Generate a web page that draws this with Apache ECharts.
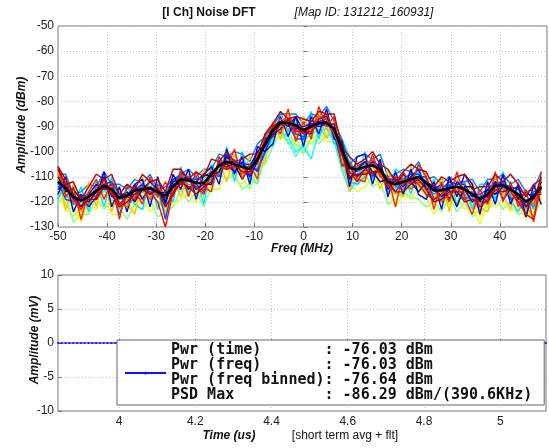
<!DOCTYPE html>
<html>
<head>
<meta charset="utf-8">
<script src="https://cdn.jsdelivr.net/npm/echarts@6/dist/echarts.min.js"></script>
<style>
html, body { margin: 0; padding: 0; background: #fff; }
#chart { width: 549px; height: 448px; }
</style>
</head>
<body>
<div id="chart"></div>
<script>
// frequency bins (MHz): start + step
const freqStart = -50;
const freqStep = 1.5625;

// averaged spectrum (black line), dBm
const meanDbm = [
    -112, -114.5, -118, -119.5, -118, -115.5, -113.5, -115,
    -118.5, -117.5, -115.5, -115, -114.5, -116, -117.5, -114,
    -111, -111.5, -112.5, -112.5, -109, -105.5, -104, -105,
    -106, -107, -103, -97, -91.5, -88.5, -88.5, -89.5,
    -91.5, -90, -88.5, -88.5, -91, -99, -106.5, -107,
    -106, -105.5, -107, -112, -113, -112, -111, -110,
    -112.5, -115.5, -115.5, -114.5, -114, -115, -117, -119,
    -117, -113.5, -113.5, -115, -117, -120, -118, -114
];

// individual captures, in drawing order
const traceColors = [
    "#80ff80", "#e0ff20", "#9fff60", "#ffff00", "#40ffbf", "#00ffff", "#00e0ff", "#00c0ff",
    "#00a0ff", "#0080ff", "#ff9f00", "#ffc000", "#0050ff", "#0040ff", "#0000e0", "#ff5000",
    "#0000ff", "#00008f", "#ff2000", "#ff0000", "#c00000", "#af0000"
];
const traces = [
    [-120, -118, -128, -125, -125, -119, -123, -119, -122, -127, -121, -123, -119, -126, -124, -122,
     -115, -120, -116, -122, -114, -109, -111, -109, -115, -113, -107, -105, -98, -92, -97, -95,
     -100, -94, -97, -93, -94, -107, -111, -113, -109, -114, -112, -121, -119, -116, -118, -119,
     -122, -120, -124, -118, -124, -120, -126, -123, -124, -118, -123, -120, -125, -124, -127, -119],
    [-115, -124, -122, -128, -120, -123, -118, -125, -125, -120, -124, -118, -124, -121, -121, -121,
     -119, -116, -120, -115, -115, -115, -107, -111, -113, -110, -112, -102, -94, -95, -92, -98,
     -95, -97, -92, -96, -96, -102, -113, -116, -114, -110, -114, -115, -122, -117, -119, -114,
     -118, -125, -119, -122, -118, -123, -122, -129, -120, -122, -120, -124, -121, -127, -121, -120],
    [-113, -121, -126, -122, -123, -117, -117, -119, -121, -119, -121, -118, -114, -118, -122, -115,
     -114, -113, -115, -118, -112, -106, -106, -106, -110, -115, -108, -99, -93, -92, -92, -97,
     -101, -95, -90, -89, -97, -101, -113, -110, -108, -110, -108, -117, -115, -118, -112, -113,
     -117, -117, -118, -121, -117, -116, -121, -121, -122, -116, -117, -116, -121, -123, -124, -116],
    [-111, -118, -123, -127, -120, -120, -114, -121, -122, -122, -116, -117, -116, -121, -121, -116,
     -112, -116, -116, -113, -111, -109, -103, -109, -109, -108, -105, -102, -95, -90, -90, -93,
     -96, -92, -91, -93, -93, -105, -110, -109, -111, -107, -110, -114, -117, -113, -113, -115,
     -115, -121, -117, -118, -118, -117, -120, -126, -120, -115, -118, -117, -118, -124, -125, -117],
    [-114, -118, -119, -124, -120, -117, -116, -116, -120, -120, -119, -116, -117, -120, -120, -115,
     -113, -115, -114, -114, -111, -107, -107, -107, -107, -110, -113, -101, -95, -91, -96, -102,
     -96, -93, -91, -94, -93, -101, -110, -109, -107, -109, -109, -113, -115, -113, -114, -114,
     -116, -118, -120, -116, -117, -117, -118, -122, -119, -117, -116, -119, -119, -123, -120, -115],
    [-116, -115, -116, -121, -121, -115, -116, -112, -119, -116, -118, -114, -118, -116, -119, -116,
     -110, -116, -114, -111, -109, -107, -103, -107, -106, -109, -106, -101, -94, -92, -94, -100,
     -98, -103, -92, -91, -96, -107, -116, -111, -105, -108, -107, -115, -112, -113, -113, -108,
     -114, -114, -119, -115, -113, -117, -122, -118, -117, -116, -113, -118, -115, -121, -118, -116],
    [-119, -112, -121, -114, -124, -112, -122, -110, -123, -113, -121, -123, -111, -123, -115, -120,
     -106, -117, -110, -121, -105, -110, -98, -112, -100, -111, -99, -95, -98, -84, -92, -87,
     -96, -84, -95, -85, -97, -95, -102, -112, -100, -111, -104, -116, -107, -109, -117, -105,
     -118, -111, -120, -111, -121, -112, -123, -113, -113, -119, -108, -119, -124, -117, -123, -110],
    [-111, -117, -121, -120, -119, -114, -114, -117, -119, -119, -118, -114, -116, -116, -121, -113,
     -111, -113, -114, -115, -110, -108, -104, -106, -107, -107, -104, -99, -92, -90, -91, -91,
     -93, -92, -89, -89, -91, -103, -112, -113, -110, -106, -108, -114, -114, -115, -112, -112,
     -114, -119, -117, -117, -115, -118, -119, -121, -118, -115, -115, -117, -117, -122, -119, -115],
    [-109, -114, -121, -120, -116, -118, -112, -116, -117, -121, -115, -116, -115, -118, -117, -111,
     -112, -112, -110, -112, -111, -105, -107, -103, -108, -105, -102, -97, -89, -90, -86, -89,
     -91, -91, -85, -90, -90, -103, -109, -105, -109, -105, -108, -110, -114, -112, -108, -112,
     -113, -117, -114, -114, -111, -117, -118, -123, -116, -114, -116, -113, -120, -119, -122, -111],
    [-109, -109, -117, -116, -113, -114, -108, -113, -113, -115, -111, -113, -109, -115, -114, -111,
     -109, -107, -110, -107, -107, -101, -102, -100, -101, -104, -97, -94, -90, -85, -85, -85,
     -89, -85, -86, -82, -88, -95, -105, -102, -101, -103, -101, -110, -109, -107, -108, -104,
     -111, -110, -113, -110, -112, -112, -111, -116, -111, -111, -109, -113, -111, -116, -115, -108],
    [-108, -117, -119, -124, -118, -119, -112, -117, -122, -119, -114, -118, -117, -116, -126, -115,
     -115, -114, -112, -114, -107, -108, -105, -104, -107, -110, -101, -96, -92, -90, -91, -89,
     -93, -90, -86, -91, -92, -98, -108, -111, -108, -106, -110, -113, -117, -114, -110, -111,
     -116, -118, -116, -120, -115, -113, -120, -123, -119, -113, -117, -115, -121, -122, -126, -113],
    [-110, -123, -113, -124, -112, -122, -111, -124, -115, -121, -125, -110, -120, -112, -124, -111,
     -118, -109, -117, -107, -114, -104, -112, -101, -109, -102, -107, -104, -88, -95, -85, -95,
     -86, -93, -84, -95, -88, -103, -116, -104, -110, -103, -115, -107, -116, -118, -106, -114,
     -108, -120, -110, -124, -111, -120, -112, -122, -124, -110, -117, -123, -112, -124, -115, -119],
    [-112, -119, -120, -117, -119, -119, -113, -115, -125, -117, -117, -113, -117, -113, -127, -113,
     -113, -110, -113, -116, -108, -110, -101, -104, -105, -107, -107, -100, -91, -87, -89, -95,
     -95, -88, -88, -87, -94, -99, -105, -108, -106, -110, -105, -113, -116, -111, -113, -110,
     -110, -119, -117, -113, -116, -119, -117, -117, -120, -113, -112, -119, -117, -126, -116, -115],
    [-114, -114, -119, -118, -117, -116, -113, -112, -117, -117, -115, -113, -115, -114, -119, -111,
     -110, -111, -111, -110, -108, -106, -105, -104, -105, -105, -108, -100, -93, -88, -88, -93,
     -94, -90, -89, -88, -93, -105, -106, -106, -104, -105, -107, -111, -111, -111, -109, -109,
     -112, -114, -115, -112, -113, -113, -118, -117, -115, -112, -113, -114, -115, -117, -117, -116],
    [-117, -110, -124, -117, -122, -118, -108, -122, -114, -124, -113, -111, -122, -110, -121, -109,
     -115, -107, -119, -109, -106, -113, -99, -109, -102, -113, -98, -100, -97, -86, -94, -86,
     -98, -86, -93, -83, -95, -96, -114, -102, -101, -113, -103, -118, -108, -117, -107, -117,
     -119, -112, -123, -110, -118, -109, -113, -125, -112, -121, -109, -121, -113, -126, -113, -121],
    [-110, -112, -120, -119, -121, -114, -115, -114, -120, -122, -118, -114, -119, -114, -118, -117,
     -109, -114, -114, -115, -109, -109, -102, -107, -109, -106, -105, -95, -91, -87, -88, -92,
     -91, -91, -86, -87, -93, -100, -107, -106, -105, -103, -109, -115, -113, -111, -115, -112,
     -114, -115, -120, -117, -114, -118, -119, -119, -116, -116, -114, -118, -119, -119, -121, -112],
    [-115, -113, -118, -122, -117, -113, -115, -113, -121, -118, -113, -119, -114, -117, -116, -117,
     -108, -111, -115, -113, -113, -104, -105, -108, -104, -110, -104, -95, -93, -91, -87, -91,
     -90, -89, -90, -89, -89, -101, -106, -110, -107, -104, -106, -115, -111, -114, -110, -107,
     -115, -115, -113, -119, -112, -115, -120, -118, -118, -112, -119, -115, -114, -122, -117, -117],
    [-110, -116, -115, -119, -120, -116, -110, -118, -118, -116, -120, -115, -112, -115, -120, -112,
     -111, -115, -112, -109, -110, -108, -102, -105, -111, -106, -100, -98, -90, -88, -90, -86,
     -92, -93, -87, -86, -92, -96, -111, -107, -104, -108, -112, -111, -113, -109, -112, -116,
     -112, -114, -118, -115, -122, -114, -114, -120, -115, -117, -114, -114, -119, -116, -119, -112],
    [-106, -118, -114, -127, -116, -111, -119, -112, -127, -114, -115, -121, -110, -118, -112, -118,
     -108, -118, -108, -114, -116, -102, -107, -99, -111, -105, -111, -93, -89, -93, -83, -96,
     -88, -95, -82, -90, -86, -106, -104, -111, -112, -101, -110, -110, -122, -108, -113, -105,
     -110, -123, -112, -120, -108, -118, -125, -115, -121, -108, -120, -112, -122, -115, -128, -108],
    [-107, -113, -119, -123, -117, -118, -111, -116, -121, -118, -119, -114, -116, -120, -130, -116,
     -113, -111, -114, -117, -108, -106, -107, -106, -106, -109, -102, -98, -90, -89, -87, -92,
     -92, -92, -87, -85, -92, -99, -108, -112, -107, -109, -106, -114, -110, -113, -111, -113,
     -117, -119, -117, -114, -116, -116, -116, -122, -119, -114, -113, -116, -120, -125, -127, -114],
    [-107, -113, -112, -119, -114, -109, -111, -109, -117, -113, -115, -109, -112, -111, -116, -107,
     -107, -111, -108, -110, -103, -104, -100, -104, -103, -101, -101, -93, -89, -84, -87, -86,
     -87, -88, -84, -85, -85, -98, -102, -105, -103, -100, -105, -107, -112, -108, -105, -107,
     -108, -114, -110, -112, -110, -109, -115, -114, -114, -109, -112, -109, -113, -118, -113, -111],
    [-106, -111, -117, -122, -119, -119, -114, -117, -122, -120, -117, -115, -117, -115, -122, -117,
     -112, -114, -117, -114, -112, -105, -106, -105, -108, -108, -103, -96, -94, -89, -89, -90,
     -93, -89, -89, -88, -91, -101, -110, -109, -109, -108, -108, -112, -116, -116, -113, -111,
     -115, -120, -119, -116, -116, -120, -119, -120, -120, -115, -116, -115, -118, -122, -119, -110]
];

// time-domain capture (us, mV)
const timeStart = 3.84;
const timeStep = 0.01;
const amplitudeMv = [
    0, 0, 0, 0, 0, 0, 0, 0, 0, 0, 0, 0, 0, 0, 0, 0,
    0, 0, 0, 0, 0, 0, 0, 0, 0, 0, 0, 0, 0, 0, 0, 0,
    0, 0, 0, 0, 0, 0, 0, 0, 0, 0, 0, 0, 0, 0, 0, 0,
    0, 0, 0, 0, 0, 0, 0, 0, 0, 0, 0, 0, 0, 0, 0, 0,
    0, 0, 0, 0, 0, 0, 0, 0, 0, 0, 0, 0, 0, 0, 0, 0,
    0, 0, 0, 0, 0, 0, 0, 0, 0, 0, 0, 0, 0, 0, 0, 0,
    0, 0, 0, 0, 0, 0, 0, 0, 0, 0, 0, 0, 0, 0, 0, 0,
    0, 0, 0, 0, 0, 0, 0, 0, 0, 0, 0, 0, 0, 0, 0, 0,
    0
];
const timeTicks = [4, 4.2, 4.4, 4.6, 4.8, 5];

const statNames = ["Pwr (time)", "Pwr (freq)", "Pwr (freq binned)", "PSD Max"];
const statValues = ["-76.03 dBm", "-76.03 dBm", "-76.64 dBm", "-86.29 dBm/(390.6KHz)"];
const legendText = statNames.map((n, i) => n.padEnd(17) + ": " + statValues[i]).join("\n");

const FONT = "Liberation Sans";
const frameColor = "#777";
const gridLine = { show: true, lineStyle: { color: "#c4c4c4", type: [1, 2], width: 1 } };
const tick = { show: true, inside: true, length: 4, lineStyle: { color: frameColor } };
const label = { color: "#222", fontSize: 12, fontFamily: FONT, margin: 4 };

const toPairs = (vals, start, step) => vals.map((v, i) => [start + i * step, v]);

const chart = echarts.init(document.getElementById("chart"));

const series = traces.map((t, k) => ({
    type: "line",
    xAxisIndex: 0,
    yAxisIndex: 0,
    data: toPairs(t, freqStart, freqStep),
    symbol: "none",
    silent: true,
    lineStyle: { width: 1.4, color: traceColors[k] },
    z: 2
}));
series.push({
    type: "line",
    xAxisIndex: 0,
    yAxisIndex: 0,
    data: toPairs(meanDbm, freqStart, freqStep),
    symbol: "none",
    silent: true,
    lineStyle: { width: 2.6, color: "#000" },
    z: 3
});
series.push({
    name: legendText,
    type: "line",
    xAxisIndex: 1,
    yAxisIndex: 1,
    data: toPairs(amplitudeMv, timeStart, timeStep),
    symbol: "circle",
    symbolSize: 2,
    showAllSymbol: true,
    color: "#1010ff",
    lineStyle: { width: 1, color: "#1010ff" },
    z: 3
});

const titleText = (text, x, y, font, extra) => Object.assign({
    type: "text",
    x: x,
    y: y,
    style: { text: text, font: font, fill: "#111", align: "center", verticalAlign: "middle" }
}, extra || {});

chart.setOption({
    animation: false,
    backgroundColor: "#fff",
    grid: [
        { left: 58, top: 26, width: 489, height: 201, show: true, borderColor: frameColor, borderWidth: 1 },
        { left: 58, top: 275, width: 488, height: 136, show: true, borderColor: frameColor, borderWidth: 1 }
    ],
    xAxis: [
        {
            type: "value", gridIndex: 0, min: -50, max: 49.6, interval: 10,
            axisLine: { show: false }, axisTick: tick, splitLine: gridLine,
            axisLabel: Object.assign({ showMaxLabel: false }, label)
        },
        {
            type: "value", gridIndex: 1, min: 3.84, max: 5.12,
            axisLine: { show: false },
            axisTick: Object.assign({ customValues: timeTicks }, tick),
            splitLine: gridLine,
            axisLabel: Object.assign({ customValues: timeTicks }, label, { margin: 5 })
        }
    ],
    yAxis: [
        {
            type: "value", gridIndex: 0, min: -130, max: -50, interval: 10,
            axisLine: { show: false }, axisTick: tick, splitLine: gridLine, axisLabel: label
        },
        {
            type: "value", gridIndex: 1, min: -10, max: 10, interval: 5,
            axisLine: { show: false }, axisTick: tick, splitLine: gridLine, axisLabel: label
        }
    ],
    legend: {
        data: [legendText],
        left: 117,
        top: 340,
        orient: "vertical",
        padding: [3, 12, 2, 7],
        itemWidth: 41,
        itemHeight: 4,
        itemGap: 0,
        backgroundColor: "#fff",
        borderColor: "#666",
        borderWidth: 1,
        borderRadius: 0,
        selectedMode: false,
        textStyle: { fontFamily: "DejaVu Sans Mono", fontWeight: "bold", fontSize: 15, lineHeight: 15, color: "#111" }
    },
    graphic: [
        titleText("[I Ch] Noise DFT", 209, 13, "bold 12px " + FONT),
        titleText("[Map ID: 131212_160931]", 364, 13, "italic 12px " + FONT),
        titleText("Amplitude (dBm)", 22, 125, "italic bold 12px " + FONT, { rotation: Math.PI / 2 }),
        titleText("Freq (MHz)", 302, 249, "italic bold 12px " + FONT),
        titleText("Amplitude (mV)", 35, 340, "italic bold 12px " + FONT, { rotation: Math.PI / 2 }),
        titleText("Time (us)", 229, 436, "italic bold 12px " + FONT),
        titleText("[short term avg + flt]", 345, 436, "12px " + FONT)
    ],
    series: series
});
</script>
</body>
</html>
